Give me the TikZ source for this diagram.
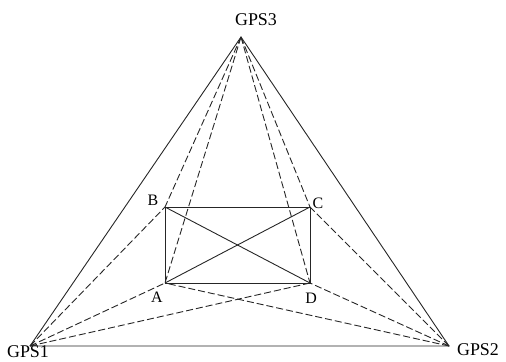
\documentclass[tikz,border=0pt]{standalone}
\usepackage{fontspec}
\setmainfont{Liberation Serif}
\begin{document}
\begin{tikzpicture}[x=1bp,y=-1bp,
  solidln/.style={draw=black!85,line width=0.9bp},
  dashln/.style={draw=black!85,line width=0.9bp,dash pattern=on 7bp off 3bp},
  gpslbl/.style={font=\fontsize{18}{18}\selectfont,inner sep=0pt},
  ptlbl/.style={font=\fontsize{16}{16}\selectfont,inner sep=0pt}]
\useasboundingbox (0,0) rectangle (506,361);
\coordinate (G3) at (241,37);
\coordinate (G1) at (30,346);
\coordinate (G2) at (449,346);
\coordinate (A) at (165,283);
\coordinate (B) at (165,207);
\coordinate (C) at (310,207);
\coordinate (D) at (310,283);
% labels
\node[gpslbl] (l3) at (256,20) {GPS3};
\node[gpslbl] (l1) at (28,352) {GPS1};
\node[gpslbl] (l2) at (478,350) {GPS2};
\node[ptlbl] (lA) at (157,297) {A};
\node[ptlbl] (lB) at (153,200) {B};
\node[ptlbl] (lC) at (318,203) {C};
\node[ptlbl] (lD) at (311,298) {D};
% triangle
\draw[solidln] (G1) -- (G3) -- (G2) -- (G1);
% rectangle and diagonals
\draw[solidln] (A) -- (B) -- (C) -- (D) -- (A);
\draw[solidln] (A) -- (C);
\draw[solidln] (B) -- (D);
% dashed from GPS3
\draw[dashln] (G3) -- (A);
\draw[dashln] (G3) -- (B);
\draw[dashln] (G3) -- (C);
\draw[dashln] (G3) -- (D);
% dashed from GPS1
\draw[dashln] (G1) -- (A);
\draw[dashln] (G1) -- (B);
\draw[dashln] (G1) -- (D);
% dashed from GPS2
\draw[dashln] (G2) -- (A);
\draw[dashln] (G2) -- (C);
\draw[dashln] (G2) -- (D);
\end{tikzpicture}
\end{document}
